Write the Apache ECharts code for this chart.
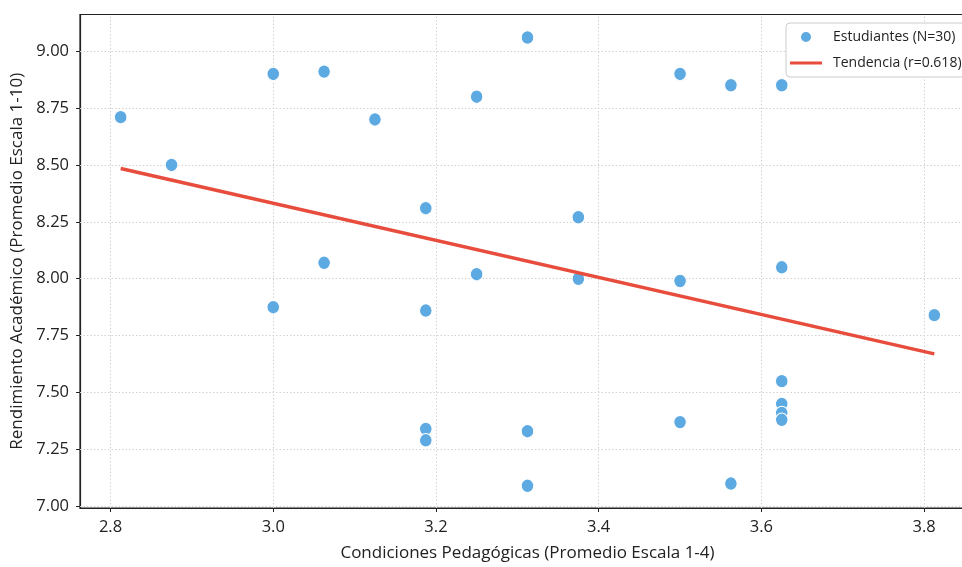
<!DOCTYPE html>
<html>
<head>
<meta charset="utf-8">
<script src="https://cdn.jsdelivr.net/npm/echarts@6/dist/echarts.min.js"></script>
<style>
html,body{margin:0;padding:0;background:#fff;overflow:hidden;width:962px;height:567px;}
#chart{width:975px;height:567px;}
</style>
</head>
<body>
<div id="chart"></div>
<script>
// Data
const condiciones = [2.8125, 2.875, 3.0, 3.0, 3.0625, 3.0625, 3.125, 3.1875, 3.1875, 3.1875,
  3.1875, 3.25, 3.25, 3.3125, 3.3125, 3.3125, 3.375, 3.375, 3.5, 3.5,
  3.5, 3.5625, 3.5625, 3.625, 3.625, 3.625, 3.625, 3.625, 3.625, 3.8125];
const rendimiento = [8.71, 8.50, 8.90, 7.875, 8.91, 8.07, 8.70, 8.31, 7.86, 7.34,
  7.29, 8.80, 8.02, 9.06, 7.33, 7.09, 8.27, 8.00, 8.90, 7.99,
  7.37, 8.85, 7.10, 8.85, 8.05, 7.55, 7.45, 7.41, 7.38, 7.84];
const trendX = [2.8125, 3.8125];
const trendY = [8.484, 7.670];
const xTicks = [2.8, 3.0, 3.2, 3.4, 3.6, 3.8];
const yTicks = [7.0, 7.25, 7.5, 7.75, 8.0, 8.25, 8.5, 8.75, 9.0];
const serieEst = 'Estudiantes (N=30)';
const serieTend = 'Tendencia (r=0.618)';
const xName = 'Condiciones Pedagógicas (Promedio Escala 1-4)';
const yName = 'Rendimiento Académico (Promedio Escala 1-10)';

const FONT = 'Open Sans';
const scatterData = condiciones.map((x, i) => [x, rendimiento[i]]);
const trendData = trendX.map((x, i) => [x, trendY[i]]);
const gridLines = xTicks.map(v => ({ xAxis: v })).concat(yTicks.map(v => ({ yAxis: v })));

const chart = echarts.init(document.getElementById('chart'), null, { renderer: 'canvas' });
chart.setOption({
  animation: false,
  backgroundColor: '#fff',
  textStyle: { fontFamily: FONT },
  grid: {
    left: 80, top: 14.5, bottom: 52.5, right: 0,
    show: true, borderColor: '#222', borderWidth: 1.2, backgroundColor: 'transparent'
  },
  legend: {
    orient: 'vertical',
    left: 786, top: 23,
    padding: [7, 40, 7, 4],
    backgroundColor: '#fff',
    borderColor: '#cccccc', borderWidth: 1, borderRadius: 4,
    itemWidth: 32, itemHeight: 12, itemGap: 12,
    textStyle: { fontSize: 14, color: '#222', fontFamily: FONT, padding: [0, 0, 0, 6] },
    data: [
      { name: serieEst, icon: 'circle' },
      { name: serieTend, icon: 'path://M0,0L0,0ZM0,4.5L32,4.5L32,7.5L0,7.5ZM32,12L32,12Z', itemStyle: { color: '#E74C3C', borderWidth: 0 } }
    ]
  },
  xAxis: {
    type: 'value',
    min: 2.7625, max: 3.8625,
    name: xName, nameLocation: 'middle', nameGap: 37,
    nameTextStyle: { fontSize: 17, color: '#222', fontFamily: FONT },
    axisLine: { show: true, lineStyle: { color: '#222', width: 1.2 } },
    axisTick: { show: true, customValues: xTicks, length: 4, lineStyle: { color: '#222' } },
    axisLabel: { customValues: xTicks, formatter: v => v.toFixed(1), fontSize: 16.5, color: '#222', margin: 11, fontFamily: FONT },
    splitLine: { show: false }
  },
  yAxis: {
    type: 'value',
    min: 6.9926, max: 9.161,
    name: yName, nameLocation: 'middle', nameGap: 52, nameRotate: 90,
    nameTextStyle: { fontSize: 17, color: '#222', fontFamily: FONT },
    axisLine: { show: true, lineStyle: { color: '#222', width: 1.2 } },
    axisTick: { show: true, customValues: yTicks, length: 4, lineStyle: { color: '#222' } },
    axisLabel: { customValues: yTicks, formatter: v => v.toFixed(2), fontSize: 16.5, color: '#222', margin: 11, fontFamily: FONT },
    splitLine: { show: false }
  },
  series: [
    {
      name: serieEst,
      type: 'scatter',
      z: 3,
      data: scatterData,
      symbolSize: [12.5, 13.5],
      itemStyle: { color: '#5DA9E1', borderColor: '#ffffff', borderWidth: 1, opacity: 1 },
      markLine: {
        silent: true,
        z: 1,
        symbol: ['none', 'none'],
        label: { show: false },
        lineStyle: { type: [1.5, 2], color: '#d2d2d2', width: 1 },
        emphasis: { disabled: true },
        data: gridLines
      }
    },
    {
      name: serieTend,
      type: 'line',
      z: 4,
      data: trendData,
      symbol: 'none',
      lineStyle: { color: '#E74C3C', width: 3.5 },
      itemStyle: { color: '#E74C3C' }
    }
  ]
});
</script>
</body>
</html>
